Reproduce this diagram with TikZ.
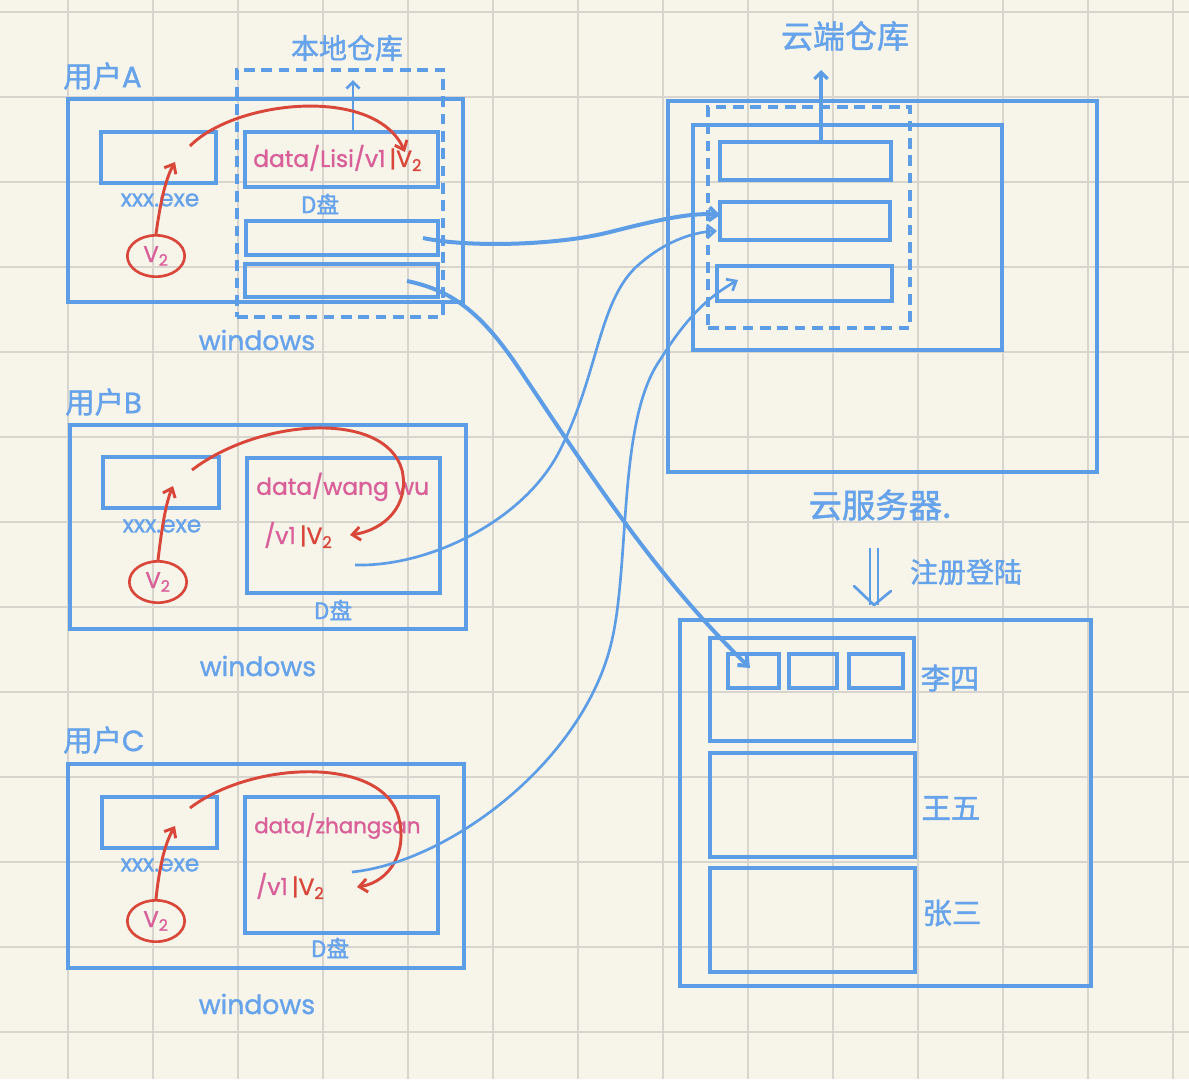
\documentclass[tikz,border=0pt]{standalone}
\usepackage{fontspec}
\setmainfont{Poppins}[FakeBold=1.2]
\newfontfamily\cjk[FakeBold=1.5]{Noto Sans CJK SC}
\newfontfamily\latinb[FakeBold=1.2]{Poppins}
\usetikzlibrary{arrows.meta,fit,shapes.geometric}
\definecolor{bg}{HTML}{F7F4EA}
\definecolor{gridc}{HTML}{D8D5CE}
\definecolor{lineblue}{HTML}{5D9DE6}
\definecolor{textblue}{HTML}{66A3EA}
\definecolor{penred}{HTML}{D9473A}
\definecolor{penpink}{HTML}{D95F98}
\tikzset{
  box/.style={draw=lineblue, line width=3.2pt, inner sep=0pt},
  dbox/.style={draw=lineblue, line width=2.4pt, dash pattern=on 8pt off 5pt, inner sep=0pt},
  gridline/.style={draw=gridc, line width=1.4pt},
  lbl/.style={text=textblue, inner sep=0pt},
  cjklbl/.style={text=textblue, inner sep=0pt, font=\cjk},
  path/.style={text=penpink, inner sep=0pt, font=\fontsize{17.5}{19}\selectfont},
  vcirc/.style={ellipse, draw=penred, line width=2pt, minimum width=43pt, minimum height=31pt, inner sep=0pt, text=penpink, font=\fontsize{17}{18}\selectfont},
  redarr/.style={draw=penred, line width=2.2pt, -{Straight Barb[length=6pt,width=10pt]}},
  bluethick/.style={draw=lineblue, line width=3pt, -{Straight Barb[length=6pt,width=10pt]}},
  bluethin/.style={draw=lineblue, line width=2pt, -{Straight Barb[length=6pt,width=10pt]}},
}
\begin{document}
\begin{tikzpicture}[x=0.75pt,y=-0.75pt]
\useasboundingbox (0,0) rectangle (1189,1079);
\fill[bg] (0,0) rectangle (1189,1079);
\foreach \i in {0,...,13} \draw[gridline] ({68+85*\i},0) -- ({68+85*\i},1079);
\foreach \i in {0,...,12} \draw[gridline] (0,{12+85*\i}) -- (1189,{12+85*\i});

% ---------- User A ----------
\node[cjklbl, anchor=west, font=\cjk\fontsize{22}{24}\selectfont] (Alab) at (63,76) {用户\textup{\latinb A}};
\node[box, fit={(68,99) (463,302)}] (Aout) {};
\node[box, fit={(101,132) (216,183)}] (Aexe) {};
\node[lbl, font=\fontsize{17.5}{19}\selectfont] (Aexel) at (160,200) {xxx.exe};
\node[vcirc] (Acirc) at (156,256) {V\textsubscript{2}};
\node[dbox, fit={(237,70) (443,317)}] (Alocal) {};
\node[cjklbl, font=\cjk\fontsize{21}{23}\selectfont] (Alocall) at (347,48) {本地仓库};
\node[box, fit={(245,132) (438,187)}] (Ad1) {};
\node[path, anchor=west] (Ad1t) at (253,158) {data/Lisi/v1\,\textcolor{penred}{|V\textsubscript{2}}};
\node[cjklbl, font=\cjk\fontsize{17}{19}\selectfont] (AD) at (320,204) {D盘};
\node[box, fit={(246,221) (438,255)}] (Ad2) {};
\node[box, fit={(245,264) (438,297)}] (Ad3) {};
\node[lbl, font=\fontsize{20}{22}\selectfont] (Awin) at (257,340) {windows};
\coordinate (Aup) at (353,80);
\draw[draw=lineblue, line width=2pt, -{Straight Barb[length=5pt,width=10pt]}] (Ad1.north -| Aup) -- (Aup);
\coordinate (Aexetip) at (175,162);
\draw[redarr] (Acirc.north) .. controls (160,205) and (165,180) .. (Aexetip);
\coordinate (Ars) at (190,146);
\coordinate (Are) at (405,152);
\draw[redarr] (Ars) .. controls (235,100) and (375,85) .. (Are);

% ---------- User B ----------
\node[cjklbl, anchor=west, font=\cjk\fontsize{22}{24}\selectfont] (Blab) at (65,402) {用户\textup{\latinb B}};
\node[box, fit={(70,425) (466,629)}] (Bout) {};
\node[box, fit={(103,457) (219,508)}] (Bexe) {};
\node[lbl, font=\fontsize{17.5}{19}\selectfont] (Bexel) at (162,526) {xxx.exe};
\node[vcirc] (Bcirc) at (158,582) {V\textsubscript{2}};
\node[box, fit={(247,458) (440,593)}] (Bd) {};
\node[path, anchor=west] (Bdt1) at (256,487) {data/wang wu};
\node[path, anchor=west] (Bdt2) at (264,535) {/v1\,\textcolor{penred}{|V\textsubscript{2}}};
\node[cjklbl, font=\cjk\fontsize{17}{19}\selectfont] (BD) at (333,610) {D盘};
\node[lbl, font=\fontsize{20}{22}\selectfont] (Bwin) at (258,666) {windows};
\coordinate (Bexetip) at (173,486);
\draw[redarr] (Bcirc.north) .. controls (161,535) and (165,505) .. (Bexetip);
\coordinate (Brs) at (192,470);
\coordinate (Bre) at (350,535);
\draw[redarr] (Brs) .. controls (260,418) and (385,410) .. (402,470) .. controls (410,505) and (385,530) .. (Bre);

% ---------- User C ----------
\node[cjklbl, anchor=west, font=\cjk\fontsize{22}{24}\selectfont] (Clab) at (63,740) {用户\textup{\latinb C}};
\node[box, fit={(68,764) (464,968)}] (Cout) {};
\node[box, fit={(102,797) (217,848)}] (Cexe) {};
\node[lbl, font=\fontsize{17.5}{19}\selectfont] (Cexel) at (160,865) {xxx.exe};
\node[vcirc] (Ccirc) at (156,921) {V\textsubscript{2}};
\node[box, fit={(245,797) (438,933)}] (Cd) {};
\node[path, anchor=west, font=\fontsize{16}{18}\selectfont] (Cdt1) at (254,826) {data/zhangsan};
\node[path, anchor=west] (Cdt2) at (256,886) {/v1\,\textcolor{penred}{|V\textsubscript{2}}};
\node[cjklbl, font=\cjk\fontsize{17}{19}\selectfont] (CD) at (330,948) {D盘};
\node[lbl, font=\fontsize{20}{22}\selectfont] (Cwin) at (257,1004) {windows};
\coordinate (Cexetip) at (175,826);
\draw[redarr] (Ccirc.north) .. controls (159,870) and (164,845) .. (Cexetip);
\coordinate (Crs) at (190,808);
\coordinate (Cre) at (357,887);
\draw[redarr] (Crs) .. controls (250,762) and (375,756) .. (397,812) .. controls (410,850) and (390,882) .. (Cre);

% ---------- Cloud ----------
\node[cjklbl, font=\cjk\fontsize{24}{26}\selectfont] (Cloudl) at (845,36) {云端仓库};
\node[box, fit={(668,101) (1097,472)}] (Sout) {};
\node[box, fit={(693,125) (1002,350)}] (Sin) {};
\node[dbox, fit={(708,107) (910,328)}] (Sdash) {};
\node[box, fit={(720,142) (891,180)}] (S1) {};
\node[box, fit={(720,202) (890,240)}] (S2) {};
\node[box, fit={(717,266) (892,301)}] (S3) {};
\coordinate (Sup) at (821,70);
\draw[draw=lineblue, line width=2.4pt, -{Straight Barb[length=5pt,width=10pt]}] (S1.north -| Sup) -- (Sup);
\node[cjklbl, font=\cjk\fontsize{25}{27}\selectfont] (Srvl) at (880,505) {云服务器.};

% register arrow
\coordinate (Rt) at (874,548);
\coordinate (Rb) at (874,605);
\draw[lineblue, line width=2pt] ([xshift=-3pt]Rt) -- ([xshift=-3pt]Rb);
\draw[lineblue, line width=2pt] ([xshift=3pt]Rt) -- ([xshift=3pt]Rb);
\draw[lineblue, line width=2pt, line cap=round, line join=round] (854,586) -- (Rb) -- (891,591);
\node[cjklbl, font=\cjk\fontsize{21}{23}\selectfont] (Regl) at (966,572) {注册登陆};

% ---------- Users area ----------
\node[box, fit={(680,620) (1091,986)}] (Uout) {};
\node[box, fit={(710,638) (914,741)}] (U1) {};
\node[box, fit={(728,654) (779,688)}] (U1a) {};
\node[box, fit={(789,654) (837,688)}] (U1b) {};
\node[box, fit={(849,654) (903,688)}] (U1c) {};
\node[box, fit={(710,753) (915,857)}] (U2) {};
\node[box, fit={(710,868) (915,972)}] (U3) {};
\node[cjklbl, font=\cjk\fontsize{22}{24}\selectfont] (U1l) at (950,678) {李四};
\node[cjklbl, font=\cjk\fontsize{22}{24}\selectfont] (U2l) at (951,808) {王五};
\node[cjklbl, font=\cjk\fontsize{22}{24}\selectfont] (U3l) at (952,913) {张三};

% ---------- Blue connectors ----------
\coordinate (A2s) at (423,238);
\coordinate (S2in) at (720,215);
\draw[bluethick] (A2s) .. controls (470,248) and (560,245) .. (610,232) .. controls (650,222) and (690,212) .. (S2in);

\coordinate (A3s) at (407,281);
\coordinate (U1in) at (750,668);
\draw[bluethick] (A3s) .. controls (450,290) and (480,310) .. (520,370) .. controls (600,490) and (660,580) .. (U1in);

\coordinate (Bs) at (355,565);
\coordinate (S2in2) at (717,231);
\draw[bluethin] (Bs) .. controls (430,567) and (525,520) .. (560,450) .. controls (598,375) and (598,305) .. (635,268) .. controls (665,240) and (695,232) .. (S2in2);

\coordinate (Cs) at (352,872);
\coordinate (S3in) at (738,280);
\draw[bluethin] (Cs) .. controls (450,862) and (585,760) .. (612,640) .. controls (630,560) and (618,420) .. (660,360) .. controls (688,315) and (710,296) .. (S3in);
\end{tikzpicture}
\end{document}
